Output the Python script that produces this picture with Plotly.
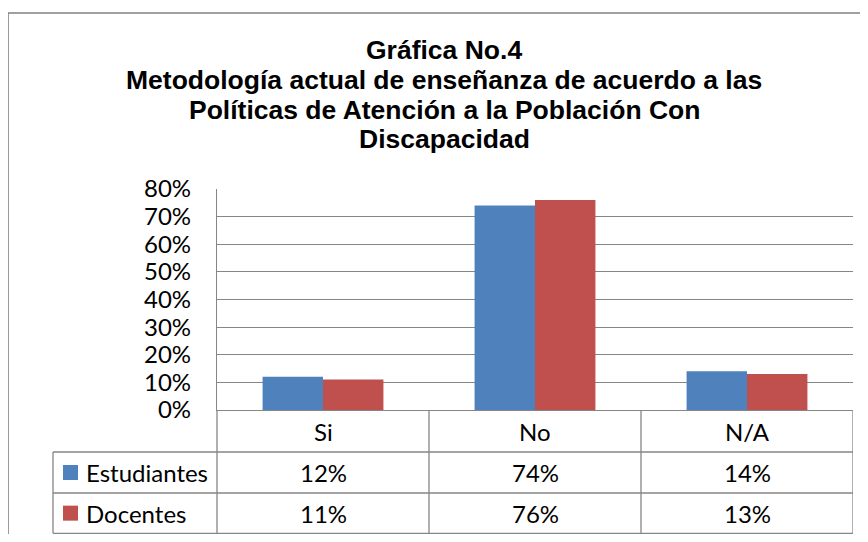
import plotly.graph_objects as go

# ---- data ----
categories = ["Si", "No", "N/A"]
series_names = ["Estudiantes", "Docentes"]
estudiantes = [0.12, 0.74, 0.14]
docentes = [0.11, 0.76, 0.13]
series_values = [estudiantes, docentes]
series_colors = ["#4F81BD", "#C0504D"]
y_tickvals = [0, 0.1, 0.2, 0.3, 0.4, 0.5, 0.6, 0.7, 0.8]
title_lines = [
    "Gráfica No.4",
    "Metodología actual de enseñanza de acuerdo a las",
    "Políticas de Atención a la Población Con",
    "Discapacidad",
]

# ---- layout geometry (pixels, window coords) ----
W, H = 868, 542
OFF = 8  # default body margin of the page
L, R, T, B = 217, 853, 189, 410
GRID = "#868686"
LBL_FONT = "Lato, Carlito, Calibri, sans-serif"
TTL_FONT = "Liberation Sans, Arial, sans-serif"
LBL_SIZE = 24
FIG_W = W - OFF
FIG_H = H - 2 * OFF  # avoid vertical page overflow


def px(x):
    return (x - L) / (R - L)


def py(y):
    return (B - y) / (B - T)


fig = go.Figure()
for name, vals, col in zip(series_names, series_values, series_colors):
    fig.add_trace(go.Bar(x=categories, y=vals, name=name, marker_color=col,
                         marker_line_width=0))

shapes = []


def hline(y, x0, x1, xref="paper", w=1.3, c=GRID):
    shapes.append(dict(type="line", xref=xref, yref="paper", x0=x0, x1=x1,
                       y0=y, y1=y, line=dict(color=c, width=w)))


def vline(x, y0, y1, xref="paper", w=1.3, c=GRID):
    shapes.append(dict(type="line", xref=xref, yref="paper", x0=x, x1=x,
                       y0=y0, y1=y1, line=dict(color=c, width=w)))


# outer chart border
hline(py(13), px(8), px(875), w=1.6, c="#808080")
vline(px(8), py(13), py(560), w=1.6, c="#808080")

# data table grid
row_tops = [410, 452, 493, 533.3]
hline(py(row_tops[1]), px(53), 1)
hline(py(row_tops[2]), px(53), 1)
hline(py(row_tops[3]), px(53), 1)
vline(px(53), py(row_tops[1]), py(row_tops[3]))
vline(0, py(row_tops[3]), 0)
for i in range(len(categories)):
    vline(i + 0.5, py(row_tops[3]), 0, xref="x")

annotations = []
# title
title_y = [50, 80, 110, 139]
for line, yy in zip(title_lines, title_y):
    annotations.append(dict(text="<b>%s</b>" % line, xref="paper", yref="paper",
                            x=px(444), y=py(yy), showarrow=False,
                            xanchor="center", yanchor="middle",
                            font=dict(family=TTL_FONT, size=26.5, color="#000")))

# category row
for c in categories:
    annotations.append(dict(text=c, xref="x", yref="paper", x=c,
                            y=py((row_tops[0] + row_tops[1]) / 2),
                            showarrow=False, xanchor="center", yanchor="middle",
                            font=dict(family=LBL_FONT, size=LBL_SIZE, color="#000")))

# value rows with legend keys
for r, (name, vals, col) in enumerate(zip(series_names, series_values, series_colors)):
    yc = (row_tops[r + 1] + row_tops[r + 2]) / 2
    shapes.append(dict(type="rect", xref="paper", yref="paper",
                       x0=px(63), x1=px(78), y0=py(yc - 7.5), y1=py(yc + 7.5),
                       fillcolor=col, line=dict(width=0)))
    annotations.append(dict(text=name, xref="paper", yref="paper", x=px(84),
                            y=py(yc), showarrow=False, xanchor="left",
                            yanchor="middle",
                            font=dict(family=LBL_FONT, size=LBL_SIZE, color="#000")))
    for c, v in zip(categories, vals):
        annotations.append(dict(text="%d%%" % round(v * 100), xref="x",
                                yref="paper", x=c, y=py(yc), showarrow=False,
                                xanchor="center", yanchor="middle",
                                font=dict(family=LBL_FONT, size=LBL_SIZE, color="#000")))

fig.update_layout(
    width=FIG_W, height=FIG_H,
    margin=dict(l=L - OFF, r=FIG_W - (R - OFF), t=T - OFF, b=FIG_H - (B - OFF), pad=0),
    paper_bgcolor="white", plot_bgcolor="white",
    showlegend=False,
    barmode="group", bargap=0.43, bargroupgap=0,
    shapes=shapes, annotations=annotations,
    xaxis=dict(range=[-0.5, 2.5], showticklabels=False, ticks="",
               showgrid=False, showline=True, linecolor=GRID, linewidth=1.3,
               zeroline=False, fixedrange=True),
    yaxis=dict(range=[0, 0.8], tickvals=y_tickvals, tickformat=".0%",
               showgrid=True, gridcolor=GRID, gridwidth=1.3,
               showline=True, linecolor=GRID, linewidth=1.3, zeroline=False,
               ticks="", ticklabelstandoff=20,
               tickfont=dict(family=LBL_FONT, size=LBL_SIZE, color="#000"),
               fixedrange=True),
)

fig.write_html("out.html")
